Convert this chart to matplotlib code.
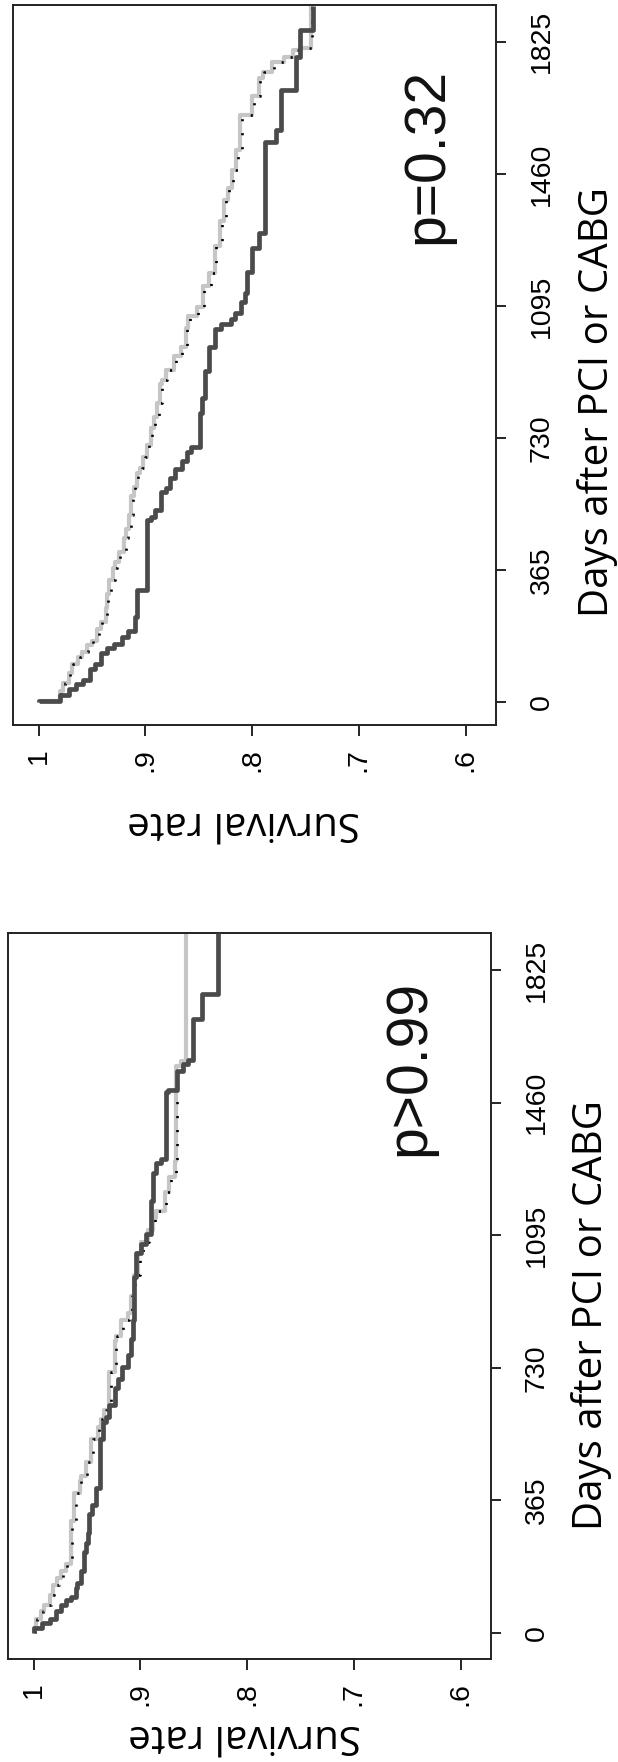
import numpy as np
import matplotlib
matplotlib.use("Agg")
import matplotlib.pyplot as plt
from matplotlib.transforms import offset_copy

# ---------------- data ----------------
# Panel A (upper picture, p=0.32): days of each step and survival after it
a_dark_days = [0, 3, 20, 35, 50, 60, 90, 105, 135, 150, 160, 180, 195, 235, 309, 503, 510, 530, 580, 592,
               620, 645, 665, 690, 705, 800, 840, 915, 980, 1030, 1045, 1060, 1075, 1106, 1131, 1190, 1255,
               1296, 1549, 1580, 1692, 1784, 1858, 1925]
a_dark_surv = [1.0, .980, .972, .965, .958, .952, .947, .942, .936, .929, .922, .916, .910, .908, .898, .895,
               .891, .885, .881, .877, .872, .866, .861, .857, .849, .847, .844, .840, .835, .829, .820, .816,
               .810, .807, .805, .800, .794, .788, .778, .773, .759, .755, .743, .743]
a_light_days = [0, 2, 30, 53, 79, 105, 124, 137, 156, 169, 202, 220, 259, 298, 337, 369, 388, 414, 452, 478,
                517, 568, 594, 633, 646, 678, 710, 756, 788, 827, 878, 891, 917, 956, 982, 1033, 1066, 1093,
                1150, 1186, 1260, 1330, 1388, 1420, 1471, 1527, 1624, 1675, 1725, 1742, 1770, 1784, 1803,
                1808, 1925]
a_light_surv = [1.0, .980, .977, .972, .969, .963, .959, .955, .950, .945, .942, .937, .936, .934, .930, .928,
                .925, .920, .918, .915, .913, .911, .908, .905, .902, .898, .895, .892, .889, .886, .884, .881,
                .873, .867, .862, .860, .852, .846, .840, .835, .830, .826, .823, .819, .815, .811, .800, .794,
                .790, .781, .770, .762, .755, .745, .745]

# Panel B (lower picture, p>0.99)
b_dark_days = [0, 13, 26, 39, 59, 78, 91, 98, 124, 137, 170, 222, 248, 274, 327, 353, 398, 535, 581, 594,
               627, 673, 699, 731, 764, 810, 862, 980, 1045, 1071, 1097, 1188, 1267, 1293, 1306, 1489, 1495,
               1548, 1567, 1577, 1691, 1760, 1926]
b_dark_surv = [1.0, .992, .985, .979, .974, .970, .965, .960, .959, .956, .953, .951, .949, .948, .945, .942,
               .938, .935, .932, .929, .924, .921, .917, .912, .909, .907, .906, .904, .899, .895, .890, .888,
               .885, .881, .876, .874, .866, .860, .855, .851, .842, .827, .827]
b_light_days = [0, 13, 39, 59, 78, 104, 131, 150, 170, 189, 307, 385, 418, 431, 470, 535, 568, 588, 614, 718,
                803, 816, 862, 882, 927, 986, 1045, 1077, 1110, 1143, 1162, 1215, 1254, 1299, 1561, 1574, 1926]
b_light_surv = [1.0, .998, .993, .990, .985, .982, .978, .974, .970, .965, .962, .957, .956, .951, .946, .940,
                .937, .934, .929, .924, .923, .918, .912, .909, .906, .902, .899, .893, .888, .885, .877, .873,
                .868, .867, .862, .857, .857]

# number of light-curve steps carrying the black dotted marks
a_dot_steps = 55
b_dot_steps = 35

surv_ticks = [1.0, 0.9, 0.8, 0.7, 0.6]
surv_ticklabels = ["1", ".9", ".8", ".7", ".6"]
day_ticks = [0, 365, 730, 1095, 1460, 1825]
day_ticklabels = ["0", "365", "730", "1095", "1460", "1825"]
p_texts = ["p=0.32", "p>0.99"]
xlabel_text = "Survival rate"
ylabel_text = "Days after PCI or CABG"

# ---------------- style ----------------
DARK = "#4b4b4b"
LIGHT = "#c6c6c6"
TICK_FONT = "Liberation Sans"
LABEL_FONT = "Open Sans"

fig = plt.figure(figsize=(6.18, 17.62), dpi=100)


def draw_panel(rect, ylim, dark, light, ndots, ptext, p_pos, ylab_xy, xlab_xy):
    ax = fig.add_axes(rect)
    # light curve, black dotted overlay, dark curve (x = survival, y = days)
    ax.step(light[1], light[0], where="pre", color=LIGHT, lw=3.0, solid_capstyle="butt", zorder=2)
    off = offset_copy(ax.transData, fig=fig, x=1.5, y=0, units="dots")
    ax.step(light[1][:ndots], light[0][:ndots], where="pre", color="black", lw=1.9,
            linestyle=(0, (0.8, 4.5)), transform=off, zorder=3)
    ax.step(dark[1], dark[0], where="pre", color=DARK, lw=3.4, solid_capstyle="butt", zorder=4)

    ax.set_xlim(1.024, 0.5715)
    ax.set_ylim(*ylim)

    ax.set_xticks(surv_ticks)
    ax.set_xticklabels(surv_ticklabels, fontfamily=TICK_FONT, fontsize=20.5)
    ax.set_yticks(day_ticks)
    ax.set_yticklabels(day_ticklabels, fontfamily=TICK_FONT, fontsize=20.5)
    ax.yaxis.tick_right()
    ax.tick_params(axis="x", direction="out", length=8, width=1.2, pad=8.5, labelrotation=90)
    ax.tick_params(axis="y", direction="out", length=7.5, width=1.2, pad=16, labelrotation=90)
    for lab in ax.get_yticklabels():
        lab.set_verticalalignment("center")

    for sp in ax.spines.values():
        sp.set_linewidth(1.4)
        sp.set_color("#222222")

    ax.yaxis.set_label_position("right")
    ax.set_ylabel(ylabel_text, fontfamily=LABEL_FONT, fontsize=29, rotation=90,
                  ha="center", va="center")
    ax.yaxis.set_label_coords(*ylab_xy)
    ax.set_xlabel(xlabel_text, fontfamily=LABEL_FONT, fontsize=29, rotation=180,
                  ha="center", va="center")
    ax.xaxis.set_label_coords(*xlab_xy)

    ax.text(p_pos[0], p_pos[1], ptext, rotation=90, ha="center", va="center",
            fontfamily=TICK_FONT, fontsize=41, color="#111111")
    return ax


draw_panel([0.02104, 0.58854, 0.78155, 0.40863], (-64, 1927),
           (a_dark_days, a_dark_surv), (a_light_days, a_light_surv), a_dot_steps,
           p_texts[0], (0.6356, 1510), (1.211, 0.449), (0.478, -0.135))
draw_panel([0.012945, 0.058456, 0.78155, 0.41203], (-72, 1927),
           (b_dark_days, b_dark_surv), (b_light_days, b_light_surv), b_dot_steps,
           p_texts[1], (0.6478, 1555), (1.209, 0.474), (0.489, -0.105))

fig.savefig("out.png", dpi=100, facecolor="white")
